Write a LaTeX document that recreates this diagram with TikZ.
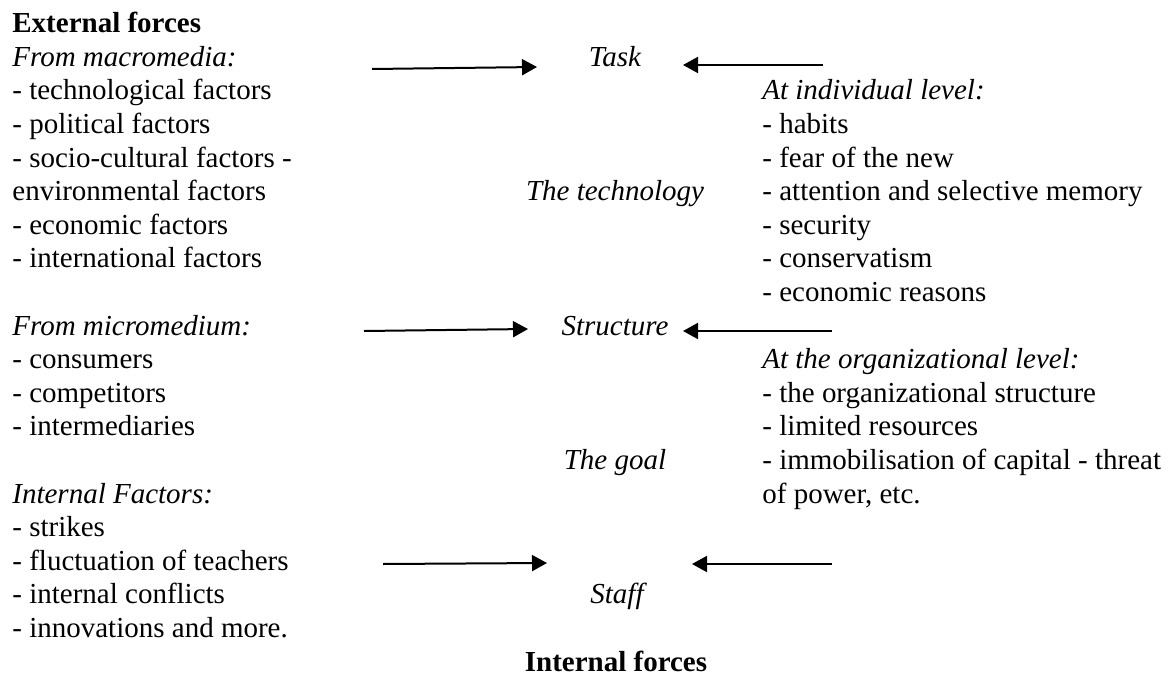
\documentclass[tikz,border=0pt]{standalone}
\usepackage{fontspec}
\setmainfont{Liberation Serif}
\usetikzlibrary{arrows.meta}

\newcommand{\rowy}[1]{32.7+33.6*(#1-1)}

\begin{document}
\begin{tikzpicture}[x=0.5pt,y=-0.5pt,
  font=\fontsize{14.5}{16.8}\selectfont,
  txt/.style={inner sep=0pt,anchor=base west},
  mid/.style={inner sep=0pt,anchor=base,font=\fontsize{14.5}{16.8}\selectfont\itshape},
  push/.style={line width=1pt,-{Triangle[length=7.5pt,width=8pt]}}]
\useasboundingbox (0,0) rectangle (1169,675);

% left column
\node[txt] (ext) at (12,{\rowy{1}}) {\textbf{External forces}};
\node[txt] (macro) at (12,{\rowy{2}}) {\textit{From macromedia:}};
\foreach \i/\t in {3/{- technological factors},4/{- political factors},
  5/{- socio-cultural factors -},6/{environmental factors},
  7/{- economic factors},8/{- international factors}}
  \node[txt] (macro\i) at (12,{\rowy{\i}}) {\t};
\node[txt] (micro) at (12,{\rowy{10}}) {\textit{From micromedium:}};
\foreach \i/\t in {11/consumers,12/competitors,13/intermediaries}
  \node[txt] (micro\i) at (12,{\rowy{\i}}) {- \t};
\node[txt] (intf) at (12,{\rowy{15}}) {\textit{Internal Factors:}};
\foreach \i/\t in {16/strikes,17/fluctuation of teachers,
  18/internal conflicts,19/innovations and more.}
  \node[txt] (intf\i) at (12,{\rowy{\i}}) {- \t};

% middle column
\node[mid] (task) at (615,{\rowy{2}}) {Task};
\node[mid] (tech) at (615,{\rowy{6}}) {The technology};
\node[mid] (struct) at (615,{\rowy{10}}) {Structure};
\node[mid] (goal) at (615,{\rowy{14}}) {The goal};
\node[mid] (staff) at (617,{\rowy{18}}) {Staff};
\node[inner sep=0pt,anchor=base] (intforces) at (616,{\rowy{20}}) {\textbf{Internal forces}};

% right column
\node[txt] (indiv) at (762,{\rowy{3}}) {\textit{At individual level:}};
\foreach \i/\t in {4/habits,5/fear of the new,6/attention and selective memory,
  7/security,8/conservatism,9/economic reasons}
  \node[txt] (indiv\i) at (762,{\rowy{\i}}) {- \t};
\node[txt] (org) at (762,{\rowy{11}}) {\textit{At the organizational level:}};
\foreach \i/\t in {12/{- the organizational structure},13/{- limited resources},
  14/{- immobilisation of capital - threat},15/{of power, etc.}}
  \node[txt] (org\i) at (762,{\rowy{\i}}) {\t};

% arrows
\coordinate (tasklt) at (372,69);
\coordinate (tasklh) at (537,67);
\coordinate (taskrt) at (823,65);
\coordinate (taskrh) at (683,65);
\coordinate (structlt) at (364,331);
\coordinate (structlh) at (528,329);
\coordinate (structrt) at (832,331);
\coordinate (structrh) at (683,331);
\coordinate (stafflt) at (383,564);
\coordinate (stafflh) at (547,563);
\coordinate (staffrt) at (832,564);
\coordinate (staffrh) at (692,564);
\draw[push] (tasklt) -- (tasklh);
\draw[push] (taskrt) -- (taskrh);
\draw[push] (structlt) -- (structlh);
\draw[push] (structrt) -- (structrh);
\draw[push] (stafflt) -- (stafflh);
\draw[push] (staffrt) -- (staffrh);

\end{tikzpicture}
\end{document}
